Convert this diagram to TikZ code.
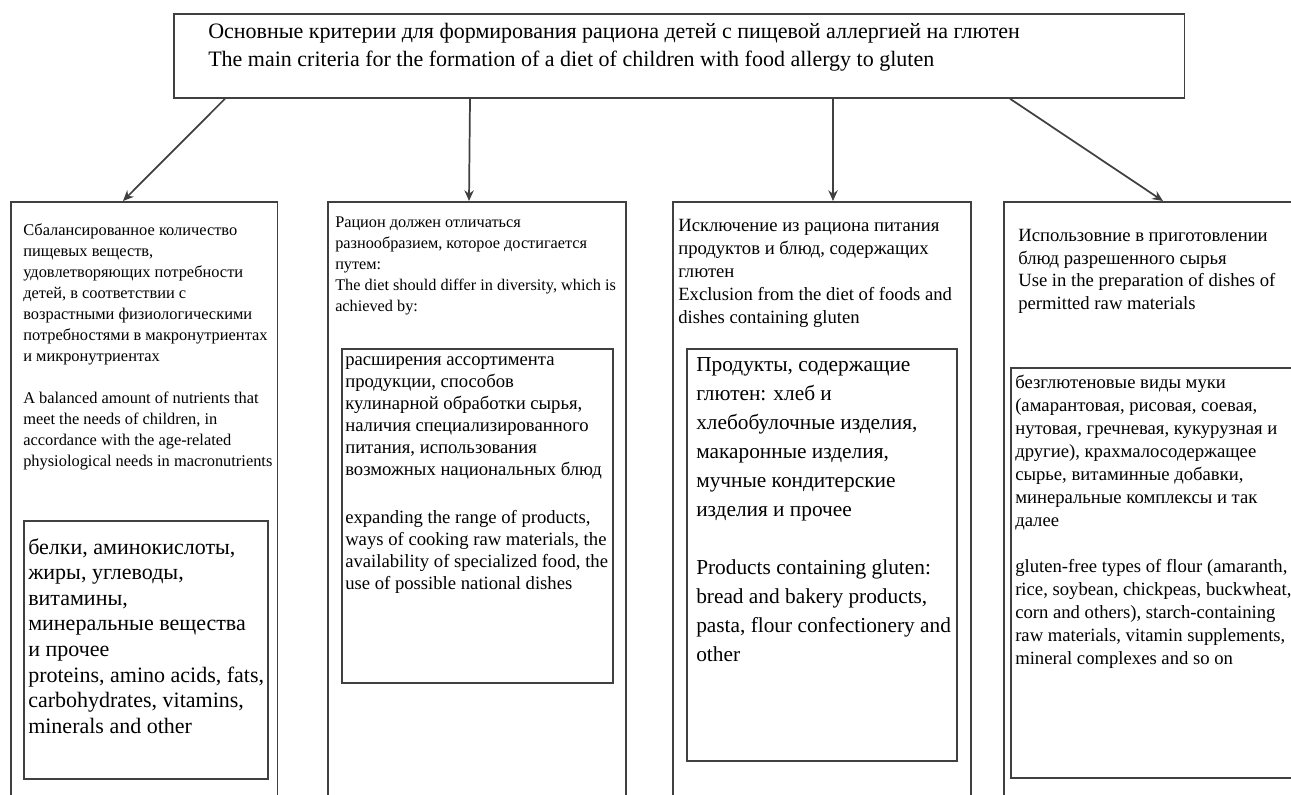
\documentclass[tikz,border=0pt]{standalone}
\usepackage{fontspec}
\setmainfont{Liberation Serif}
\usepackage{tikz}
\usetikzlibrary{arrows.meta, calc}

\tikzset{
    frame/.style={draw=black!75, line width=1.3pt, anchor=north west, inner sep=0pt},
    txt/.style={anchor=north west, inner sep=0pt, align=left},
    arr/.style={draw=black!75, line width=1.3pt, -{Stealth[length=8pt,width=7pt]}}
}

\begin{document}
\begin{tikzpicture}[x=0.75pt, y=-0.75pt]

    % Page size and cut at the lower and right edge
    \useasboundingbox (0,0) rectangle (1291,795);
    \clip (0,0) rectangle (1291,795);

    % Heading box
    \node[frame, minimum width=758pt, minimum height=63pt] (top) at (173,13) {};
    \node[txt, font=\fontsize{16.5}{21}\selectfont] (toptxt) at (208,23)
        {Основные критерии для формирования рациона детей с пищевой аллергией на глютен\\
         The main criteria for the formation of a diet of children with food allergy to gluten};

    % The four columns (they run past the bottom of the page)
    \node[frame, minimum width=200pt, minimum height=460pt] (colA) at (10,201) {};
    \node[frame, minimum width=223.5pt, minimum height=460pt] (colB) at (327,201) {};
    \node[frame, minimum width=223.5pt, minimum height=460pt] (colC) at (672,201) {};
    \node[frame, minimum width=240pt, minimum height=460pt] (colD) at (1003,201) {};

    % Arrows from the heading
    \draw[arr] ($(top.south west)+(52,0)$) -- ($(colA.north west)+(113,0)$);
    \draw[arr] ($(top.south west)+(297,0)$) -- ($(colB.north west)+(142,0)$);
    \draw[arr] ($(top.south west)+(660,0)$) -- ($(colC.north west)+(161,0)$);
    \draw[arr] ($(top.south west)+(837,0)$) -- ($(colD.north west)+(160,0)$);

    % Column texts
    \node[txt, font=\fontsize{12.3}{15.75}\selectfont] (txtA) at (23,223)
        {Сбалансированное количество\\
         пищевых веществ,\\
         удовлетворяющих потребности\\
         детей, в соответствии с\\
         возрастными физиологическими\\
         потребностями в макронутриентах\\
         и микронутриентах\\[15.75pt]
         A balanced amount of nutrients that\\
         meet the needs of children, in\\
         accordance with the age-related\\
         physiological needs in macronutrients};
    \node[txt, font=\fontsize{12.2}{15.75}\selectfont] (txtB) at (335,217)
        {Рацион должен отличаться\\
         разнообразием, которое достигается\\
         путем:\\
         The diet should differ in diversity, which is\\
         achieved by:};
    \node[txt, font=\fontsize{14}{17.25}\selectfont] (txtC) at (678,219)
        {Исключение из рациона питания\\
         продуктов и блюд, содержащих\\
         глютен\\
         Exclusion from the diet of foods and\\
         dishes containing gluten};
    \node[txt, font=\fontsize{14}{17}\selectfont] (txtD) at (1018,229)
        {Использовние в приготовлении\\
         блюд разрешенного сырья\\
         Use in the preparation of dishes of\\
         permitted raw materials};

    % Inner boxes
    \node[frame, minimum width=183pt, minimum height=193.5pt] (boxA) at (23,520) {};
    \node[frame, minimum width=203.25pt, minimum height=250.5pt] (boxB) at (341,348) {};
    \node[frame, minimum width=202.5pt, minimum height=309pt] (boxC) at (686,348) {};
    \node[frame, minimum width=240pt, minimum height=307.5pt] (boxD) at (1010,367) {};

    % Inner box texts
    \node[txt, font=\fontsize{16.5}{19.2}\selectfont] (innA) at (28,538)
        {белки, аминокислоты,\\
         жиры, углеводы,\\
         витамины,\\
         минеральные вещества\\
         и прочее\\
         proteins, amino acids, fats,\\
         carbohydrates, vitamins,\\
         minerals and other};
    \node[txt, font=\fontsize{14}{16.5}\selectfont] (innB) at (345,356)
        {расширения ассортимента\\
         продукции, способов\\
         кулинарной обработки сырья,\\
         наличия специализированного\\
         питания, использования\\
         возможных национальных блюд\\[20pt]
         expanding the range of products,\\
         ways of cooking raw materials, the\\
         availability of specialized food, the\\
         use of possible national dishes};
    \node[txt, font=\fontsize{16}{21.75}\selectfont] (innC) at (696,357)
        {Продукты, содержащие\\
         глютен: хлеб и\\
         хлебобулочные изделия,\\
         макаронные изделия,\\
         мучные кондитерские\\
         изделия и прочее\\[21.75pt]
         Products containing gluten:\\
         bread and bakery products,\\
         pasta, flour confectionery and\\
         other};
    \node[txt, font=\fontsize{14}{17.25}\selectfont] (innD) at (1015,375)
        {безглютеновые виды муки\\
         (амарантовая, рисовая, соевая,\\
         нутовая, гречневая, кукурузная и\\
         другие), крахмалосодержащее\\
         сырье, витаминные добавки,\\
         минеральные комплексы и так\\
         далее\\[17.25pt]
         gluten-free types of flour (amaranth,\\
         rice, soybean, chickpeas, buckwheat,\\
         corn and others), starch-containing\\
         raw materials, vitamin supplements,\\
         mineral complexes and so on};

\end{tikzpicture}
\end{document}
